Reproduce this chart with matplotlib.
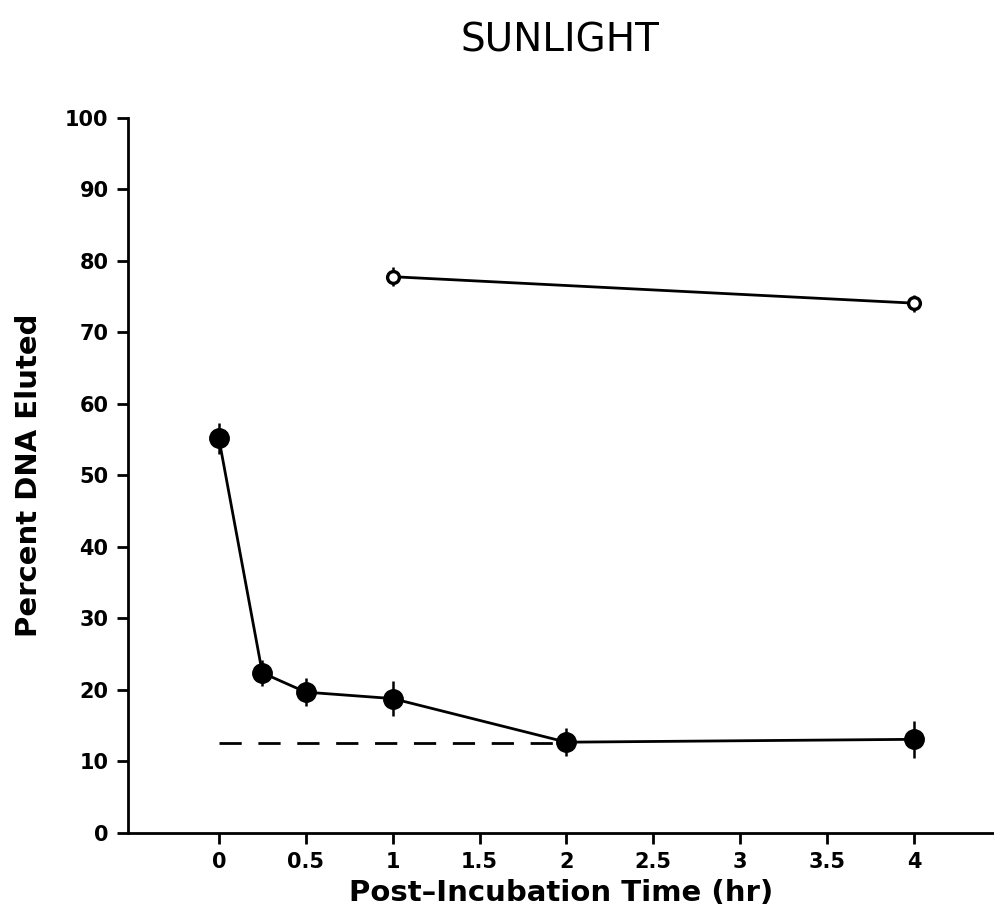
import numpy as np
import matplotlib.pyplot as plt

# post-incubation repair after sunlight exposure
t_filled = [0, 0.25, 0.5, 1, 2, 4]
pct_filled = [55.2, 22.4, 19.7, 18.8, 12.7, 13.1]
err_filled = [2.2, 1.8, 2.0, 2.4, 2.0, 2.6]

t_open = [1, 4]
pct_open = [77.8, 74.1]
err_open = [1.3, 1.2]

baseline = 12.6
baseline_t = [0, 2]

xticks = [0, 0.5, 1, 1.5, 2, 2.5, 3, 3.5, 4]
xticklabels = ['0', '0.5', '1', '1.5', '2', '2.5', '3', '3.5', '4']
yticks = list(range(0, 101, 10))

fig = plt.figure(figsize=(9.95, 9.18), dpi=100)
ax = fig.add_axes([0.1286, 0.0926, 0.8714, 0.7789])

ax.plot(baseline_t, [baseline, baseline], color='black', lw=2,
        dashes=(8, 6), zorder=2)

ax.errorbar(t_filled, pct_filled, yerr=err_filled, fmt='-o', color='black',
            lw=2, ms=14, elinewidth=1.8, capsize=0, zorder=3)
ax.errorbar(t_open, pct_open, yerr=err_open, fmt='-o', color='black',
            mfc='white', mec='black', mew=2.4, lw=2, ms=8.5,
            elinewidth=1.8, capsize=0, zorder=3)

ax.set_xlim(-0.523, 4.466)
ax.set_ylim(0, 100)
ax.set_xticks(xticks)
ax.set_xticklabels(xticklabels)
ax.set_yticks(yticks)

for s in ['top', 'right']:
    ax.spines[s].set_visible(False)
for s in ['left', 'bottom']:
    ax.spines[s].set_linewidth(2)

ax.tick_params(axis='both', direction='out', length=8, width=2,
               labelsize=15, pad=6)
for lab in ax.get_xticklabels() + ax.get_yticklabels():
    lab.set_fontweight('bold')

ax.set_xlabel('Post\u2013Incubation Time (hr)', fontsize=21,
              fontweight='bold', labelpad=5)
ax.set_ylabel('Percent DNA Eluted', fontsize=21, fontweight='bold',
              labelpad=16)
fig.text(0.563, 0.956, 'SUNLIGHT', ha='center', va='center', fontsize=28)

fig.savefig('out.png', dpi=100)
